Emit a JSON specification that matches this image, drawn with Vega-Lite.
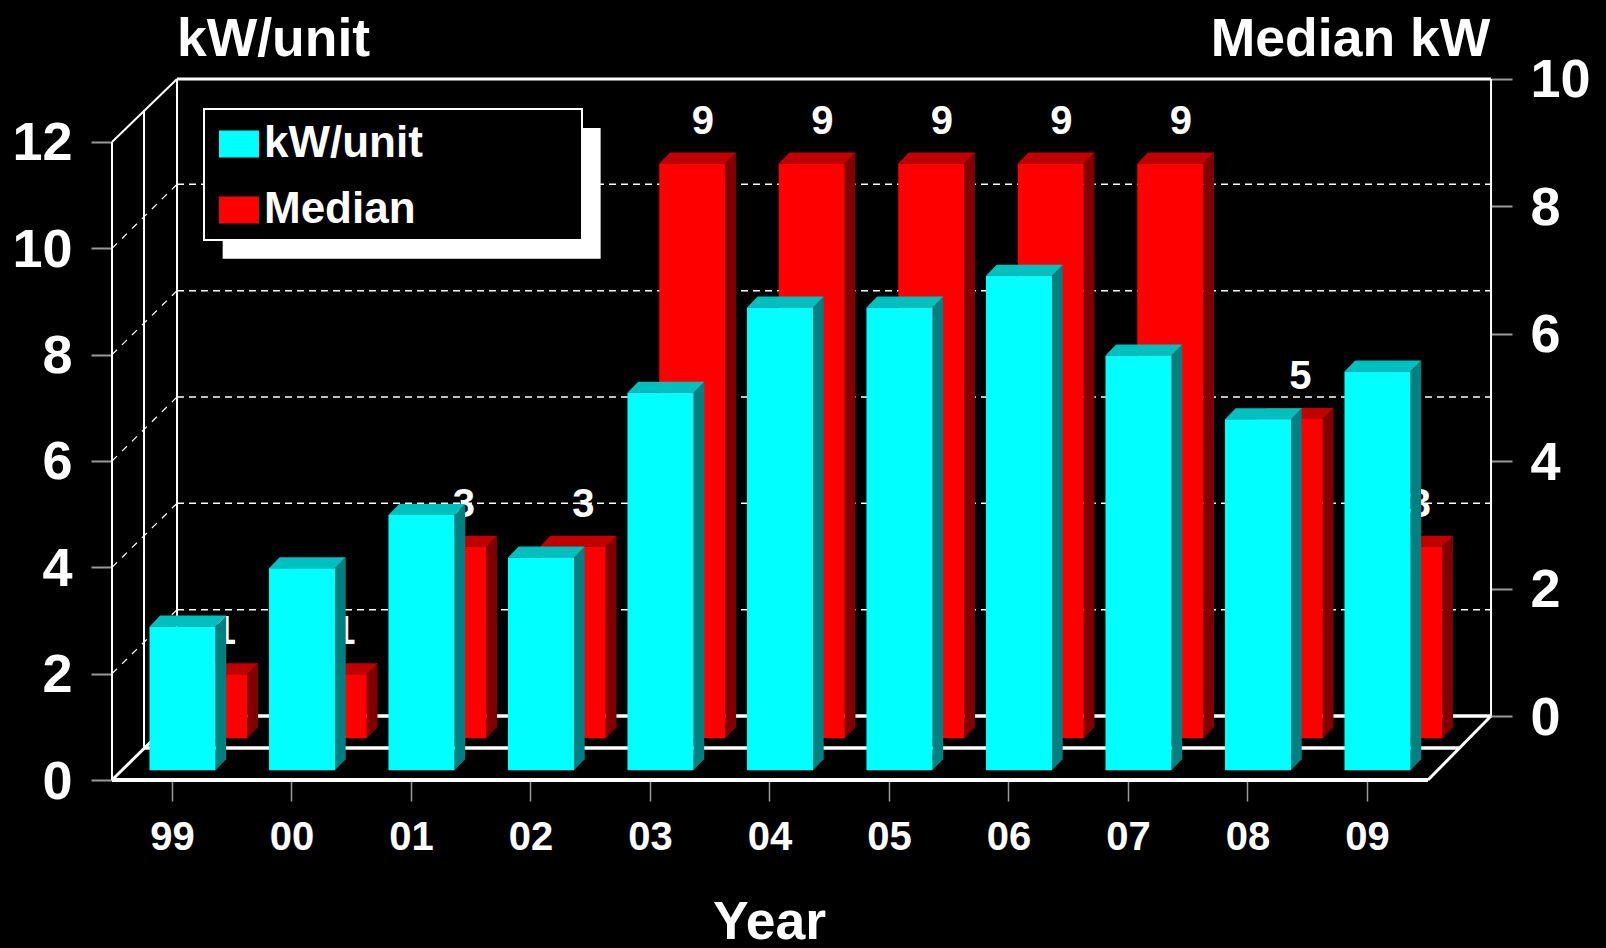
{
"$schema":"https://vega.github.io/schema/vega-lite/v6.json",
"width":1606,"height":948,"padding":0,"autosize":{"type":"none"},"background":"black",
"config":{"view":{"stroke":null},"font":"Liberation Sans","axis":{"grid":false}},
"datasets":{
"bars":[
{"year":1999,"series":"kW/unit","value":2.7},{"year":2000,"series":"kW/unit","value":3.8},{"year":2001,"series":"kW/unit","value":4.8},{"year":2002,"series":"kW/unit","value":4.0},{"year":2003,"series":"kW/unit","value":7.1},{"year":2004,"series":"kW/unit","value":8.7},{"year":2005,"series":"kW/unit","value":8.7},{"year":2006,"series":"kW/unit","value":9.3},{"year":2007,"series":"kW/unit","value":7.8},{"year":2008,"series":"kW/unit","value":6.6},{"year":2009,"series":"kW/unit","value":7.5},
{"year":1999,"series":"Median","value":1},{"year":2000,"series":"Median","value":1},{"year":2001,"series":"Median","value":3},{"year":2002,"series":"Median","value":3},{"year":2003,"series":"Median","value":9},{"year":2004,"series":"Median","value":9},{"year":2005,"series":"Median","value":9},{"year":2006,"series":"Median","value":9},{"year":2007,"series":"Median","value":9},{"year":2008,"series":"Median","value":5},{"year":2009,"series":"Median","value":3}],
"grid":[{"kw":2},{"kw":4},{"kw":6},{"kw":8},{"kw":10}],
"one":[{"id":1}]
},
"resolve":{"scale":{"y":"independent"},"axis":{"y":"independent"}},
"layer":[
{"encoding":{"y":{"type":"quantitative","scale":{"domain":[-3.159,14.670],"nice":false,"zero":false},
 "axis":{"orient":"left","offset":-112,"values":[0,2,4,6,8,10,12],"domain":false,"tickSize":21,"tickColor":"#999999","tickWidth":2,"labelColor":"white","labelFont":"Liberation Sans","labelFontWeight":"bold","labelFontSize":54,"labelPadding":19,"labelOffset":2,"labelOverlap":false,"labelFlush":false,"title":"kW/unit","titleAngle":0,"titleColor":"white","titleFont":"Liberation Sans","titleFontWeight":"bold","titleFontSize":53.5,"titleX":161,"titleY":55,"titleAlign":"center","titleBaseline":"alphabetic"}}},
 "layer":[
 {"data":{"name":"grid"},"transform":[{"calculate":"datum.kw+1.204","as":"back"}],"mark":{"type":"rule","color":"white","strokeWidth":1.5,"strokeDash":[7,5]},"encoding":{"x":{"datum":1999.042,"type":"quantitative","scale":{"domain":[1997.5607,2011.0],"nice":false,"zero":false},
 "axis":{"orient":"bottom","offset":-167,"values":[1999,2000,2001,2002,2003,2004,2005,2006,2007,2008,2009],"labelExpr":"substring(toString(datum.value),2)","domain":false,"tickSize":20,"tickColor":"#999999","tickWidth":1.5,"labelColor":"white","labelFont":"Liberation Sans","labelFontWeight":"bold","labelFontSize":40,"labelPadding":16,"labelFlush":false,"labelOverlap":false,"title":"Year","titleColor":"white","titleFont":"Liberation Sans","titleFontWeight":"bold","titleFontSize":53.5,"titleX":769,"titleY":157,"titleAlign":"center","titleBaseline":"alphabetic"}},"x2":{"datum":2010.038},"y":{"field":"back","type":"quantitative"}}},
 {"data":{"name":"grid"},"transform":[{"calculate":"datum.kw+1.204","as":"back"}],"mark":{"type":"rule","color":"white","strokeWidth":1.2,"strokeDash":[7,7]},"encoding":{"x":{"datum":1998.498,"type":"quantitative"},"x2":{"datum":1999.042},"y":{"field":"kw","type":"quantitative"},"y2":{"field":"back"}}},
 {"data":{"name":"one"},"mark":{"type":"rule","color":"white","strokeWidth":4},"encoding":{"x":{"datum":1998.498,"type":"quantitative"},"x2":{"datum":2009.51},"y":{"datum":0,"type":"quantitative"}}},
 {"data":{"name":"one"},"mark":{"type":"rule","color":"white","strokeWidth":2},"encoding":{"x":{"datum":1998.498,"type":"quantitative"},"y":{"datum":0,"type":"quantitative"},"y2":{"datum":12}}},
 {"data":{"name":"one"},"mark":{"type":"rule","color":"white","strokeWidth":2},"encoding":{"x":{"datum":1998.498,"type":"quantitative"},"x2":{"datum":1999.042},"y":{"datum":12,"type":"quantitative"},"y2":{"datum":13.184}}},
 {"data":{"name":"one"},"mark":{"type":"rule","color":"white","strokeWidth":2},"encoding":{"x":{"datum":1998.766,"type":"quantitative"},"y":{"datum":0.602,"type":"quantitative"},"y2":{"datum":12.601}}},
 {"data":{"name":"one"},"mark":{"type":"rule","color":"white","strokeWidth":2},"encoding":{"x":{"datum":1999.042,"type":"quantitative"},"y":{"datum":1.204,"type":"quantitative"},"y2":{"datum":13.184}}},
 {"data":{"name":"one"},"mark":{"type":"rule","color":"white","strokeWidth":3},"encoding":{"x":{"datum":1999.042,"type":"quantitative"},"x2":{"datum":2010.038},"y":{"datum":13.184,"type":"quantitative"}}},
 {"data":{"name":"one"},"mark":{"type":"rule","color":"white","strokeWidth":3.5},"encoding":{"x":{"datum":1999.042,"type":"quantitative"},"x2":{"datum":2010.038},"y":{"datum":1.204,"type":"quantitative"}}},
 {"data":{"name":"one"},"mark":{"type":"rule","color":"white","strokeWidth":3.5},"encoding":{"x":{"datum":1998.766,"type":"quantitative"},"x2":{"datum":2009.77},"y":{"datum":0.602,"type":"quantitative"}}},
 {"data":{"name":"one"},"mark":{"type":"rule","color":"white","strokeWidth":3},"encoding":{"x":{"datum":1998.498,"type":"quantitative"},"x2":{"datum":1999.042},"y":{"datum":0,"type":"quantitative"},"y2":{"datum":1.204}}},
 {"data":{"name":"one"},"mark":{"type":"rule","color":"white","strokeWidth":3},"encoding":{"x":{"datum":2009.51,"type":"quantitative"},"x2":{"datum":2010.038},"y":{"datum":0,"type":"quantitative"},"y2":{"datum":1.204}}},
 {"data":{"name":"one"},"mark":{"type":"rect","fill":"white"},"encoding":{"x":{"datum":1999.424,"type":"quantitative"},"x2":{"datum":2002.587},"y":{"datum":12.262,"type":"quantitative"},"y2":{"datum":9.804}}},
 {"data":{"name":"one"},"mark":{"type":"rect","fill":"black","stroke":"white","strokeWidth":2},"encoding":{"x":{"datum":1999.268,"type":"quantitative"},"x2":{"datum":2002.431},"y":{"datum":12.62,"type":"quantitative"},"y2":{"datum":10.156}}}
 ]},
{"data":{"name":"one"},"mark":{"type":"rule","color":"white","strokeWidth":2},"encoding":{"x":{"datum":2010.038,"type":"quantitative"},"y":{"datum":0,"type":"quantitative","scale":{"domain":[-3.642,11.240],"nice":false,"zero":false},
 "axis":{"orient":"right","offset":-115,"values":[0,2,4,6,8,10],"domain":false,"tickSize":21,"tickColor":"#999999","tickWidth":2,"labelColor":"white","labelFont":"Liberation Sans","labelFontWeight":"bold","labelFontSize":54,"labelPadding":18,"labelOffset":2,"labelOverlap":false,"labelFlush":false,"title":"Median kW","titleAngle":0,"titleColor":"white","titleFont":"Liberation Sans","titleFontWeight":"bold","titleFontSize":53.5,"titleX":-141,"titleY":55,"titleAlign":"center","titleBaseline":"alphabetic"}},"y2":{"datum":10}}},
{"data":{"name":"bars"},"transform":[{"filter":"datum.series==='Median'"}],
 "encoding":{"y":{"field":"value","type":"quantitative","stack":null,"axis":null,"scale":{"domain":[-3.286,11.562],"nice":false,"zero":false}},"x":{"field":"x","type":"quantitative"}},
 "layer":[
 {"transform":[{"calculate":"[0,1]","as":"depth"},{"flatten":["depth"]},{"calculate":"datum.year+0.63+0.0895*datum.depth","as":"x"},{"calculate":"datum.value+0.1727*datum.depth","as":"top"},{"calculate":"0.1727*datum.depth","as":"base"}],
  "mark":{"type":"area","orient":"vertical","fill":"#800000"},"encoding":{"y":{"field":"top","type":"quantitative","stack":null},"y2":{"field":"base"},"detail":{"field":"year"}}},
 {"transform":[{"calculate":"[0,1]","as":"depth"},{"flatten":["depth"]},{"calculate":"datum.year+0.0776+0.0895*datum.depth","as":"x"},{"calculate":"datum.year+0.63+0.0895*datum.depth","as":"xe"},{"calculate":"datum.value+0.1727*datum.depth","as":"top"}],
  "mark":{"type":"area","orient":"horizontal","fill":"#c00000"},"encoding":{"y":{"field":"top","type":"quantitative","stack":null},"x2":{"field":"xe"},"detail":{"field":"year"}}},
 {"transform":[{"calculate":"datum.year+0.0776","as":"x"},{"calculate":"datum.year+0.63","as":"xe"}],
  "mark":{"type":"rect"},"encoding":{"x2":{"field":"xe"},"y2":{"datum":0},"color":{"field":"series","type":"nominal","scale":{"domain":["kW/unit","Median"],"range":["#00ffff","#ff0000"]},"legend":{"orient":"none","legendX":217,"legendY":122,"title":null,"symbolType":"M-1,-0.675H1V0.675H-1Z","symbolSize":1600,"symbolStrokeWidth":0,"symbolOpacity":1,"labelColor":"white","labelFont":"Liberation Sans","labelFontWeight":"bold","labelFontSize":44,"labelOffset":3,"labelLimit":400,"rowPadding":22,"padding":0}}}},
 {"transform":[{"calculate":"datum.year+0.4435","as":"x"},{"calculate":"datum.value+0.1727","as":"top"}],
  "mark":{"type":"text","color":"white","font":"Liberation Sans","fontWeight":"bold","fontSize":40,"baseline":"middle","align":"center","dy":-31},"encoding":{"y":{"field":"top","type":"quantitative","stack":null},"text":{"field":"value","type":"quantitative"}}}
 ]},
{"data":{"name":"bars"},"transform":[{"filter":"datum.series==='kW/unit'"}],
 "encoding":{"y":{"field":"value","type":"quantitative","stack":null,"axis":null,"scale":{"domain":[-3.344,14.485],"nice":false,"zero":false}},"x":{"field":"x","type":"quantitative"}},
 "layer":[
 {"transform":[{"calculate":"[0,1]","as":"depth"},{"flatten":["depth"]},{"calculate":"datum.year+0.364+0.0895*datum.depth","as":"x"},{"calculate":"datum.value+0.207*datum.depth","as":"top"},{"calculate":"0.207*datum.depth","as":"base"}],
  "mark":{"type":"area","orient":"vertical","fill":"#008080"},"encoding":{"y":{"field":"top","type":"quantitative","stack":null},"y2":{"field":"base"},"detail":{"field":"year"}}},
 {"transform":[{"calculate":"[0,1]","as":"depth"},{"flatten":["depth"]},{"calculate":"datum.year-0.1885+0.0895*datum.depth","as":"x"},{"calculate":"datum.year+0.364+0.0895*datum.depth","as":"xe"},{"calculate":"datum.value+0.207*datum.depth","as":"top"}],
  "mark":{"type":"area","orient":"horizontal","fill":"#00bfbf"},"encoding":{"y":{"field":"top","type":"quantitative","stack":null},"x2":{"field":"xe"},"detail":{"field":"year"}}},
 {"transform":[{"calculate":"datum.year-0.1885","as":"x"},{"calculate":"datum.year+0.364","as":"xe"}],
  "mark":{"type":"rect"},"encoding":{"x2":{"field":"xe"},"y2":{"datum":0},"color":{"field":"series","type":"nominal"}}}
 ]}
]
}
